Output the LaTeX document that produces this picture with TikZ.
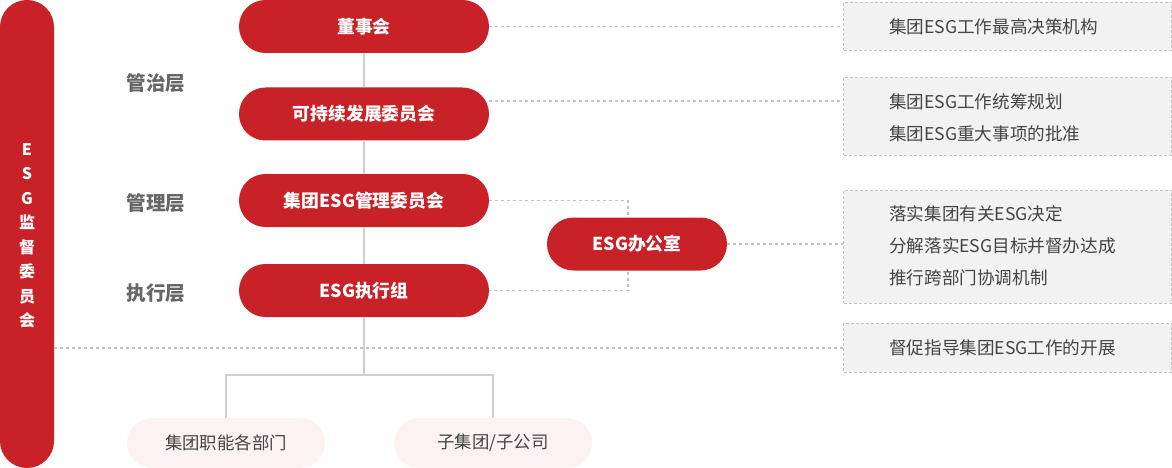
\documentclass[tikz,border=0pt]{standalone}
\usepackage{fontspec}
\setmainfont{Noto Sans CJK SC}
\definecolor{esgred}{RGB}{200,33,39}
\definecolor{pinkfill}{RGB}{253,242,242}
\definecolor{boxfill}{RGB}{242,242,242}
\definecolor{boxline}{RGB}{196,196,196}
\definecolor{solidline}{RGB}{208,208,208}
\definecolor{labelgray}{RGB}{102,102,102}
\definecolor{boxtext}{RGB}{68,68,68}
\tikzset{
  redpill/.style={fill=esgred, rounded corners=26.4pt, minimum width=250pt, minimum height=53pt,
    text=white, inner sep=0pt, font=\bfseries\fontsize{17.8}{17.8}\selectfont},
  pinkpill/.style={fill=pinkfill, rounded corners=24.9pt, minimum width=198pt, minimum height=50pt,
    text=boxtext, inner sep=0pt, font=\fontsize{17.4}{17.4}\selectfont},
  notebox/.style={fill=boxfill, draw=boxline, line width=0.9pt, dash pattern=on 3pt off 2pt,
    minimum width=328pt, inner sep=0pt},
  notetext/.style={anchor=west, align=left, text=boxtext, inner sep=0pt, font=\fontsize{17.6}{32}\selectfont},
  layerlabel/.style={text=labelgray, font=\bfseries\fontsize{19.6}{19.6}\selectfont},
  solidconn/.style={draw=solidline, line width=1.2pt},
  dashconn/.style={draw=boxline, line width=1.2pt, dash pattern=on 3pt off 3pt},
}
\begin{document}
\begin{tikzpicture}[x=1pt,y=-1pt]
\useasboundingbox (0,0) rectangle (1172,468);
% left bar
\node[fill=esgred, rounded corners=26.9pt, minimum width=54pt, minimum height=468pt, inner sep=0pt] (bar) at (27,234) {};
\node[text=white, align=center, font=\bfseries\fontsize{16}{24.5}\selectfont] (bartext) at (27,236) {E\\S\\G\\监\\督\\委\\员\\会};
% layer labels
\node[layerlabel] (l1) at (156,83) {管治层};
\node[layerlabel] (l2) at (156,203) {管理层};
\node[layerlabel] (l3) at (156,293) {执行层};
% main pills
\node[redpill] (dsh) at (364,26.5) {董事会};
\node[redpill] (kcx) at (364,114) {可持续发展委员会};
\node[redpill] (glw) at (364,200.5) {集团ESG管理委员会};
\node[redpill] (zxz) at (364,290.5) {ESG执行组};
% bottom pills
\node[pinkpill] (bl) at (226,443) {集团职能各部门};
\node[pinkpill] (br) at (493,443) {子集团/子公司};
% note boxes
\node[notebox, minimum height=48pt] (b1) at (1007.5,26) {};
\node[notebox, minimum height=78pt] (b2) at (1007.5,116) {};
\node[notebox, minimum height=113pt] (b3) at (1007.5,246.5) {};
\node[notebox, minimum height=49pt] (b4) at (1007.5,347.5) {};
\node[notetext] (t1) at (889,27) {集团ESG工作最高决策机构};
\node[notetext] (t2) at (889,118) {集团ESG工作统筹规划\\集团ESG重大事项的批准};
\node[notetext] (t3) at (889,246) {落实集团有关ESG决定\\分解落实ESG目标并督办达成\\推行跨部门协调机制};
\node[notetext] (t4) at (889,348) {督促指导集团ESG工作的开展};
% solid connectors
\coordinate (jn) at (364,375);
\draw[solidconn] (dsh.south) -- (kcx.north);
\draw[solidconn] (kcx.south) -- (glw.north);
\draw[solidconn] (glw.south) -- (zxz.north);
\draw[solidconn] (zxz.south) -- (jn);
\draw[solidconn] (bl.north) |- (jn) -| (br.north);
% dashed connectors
\coordinate (ov) at (628,244);
\draw[dashconn] (dsh.east) -- (dsh.east -| b1.west);
\draw[dashconn] ([yshift=13pt]kcx.east) -- ([yshift=13pt]kcx.east -| b2.west);
\draw[dashconn] (glw.east) -| (ov) |- (zxz.east);
\draw[dashconn] (bar.east |- 0,348) -- (b4.west |- 0,348);
% office pill (over its dashed joins)
\node[redpill, minimum width=180pt] (ofc) at (637,244) {ESG办公室};
\draw[dashconn] (ofc.east) -- (ofc.east -| b3.west);
\end{tikzpicture}
\end{document}
